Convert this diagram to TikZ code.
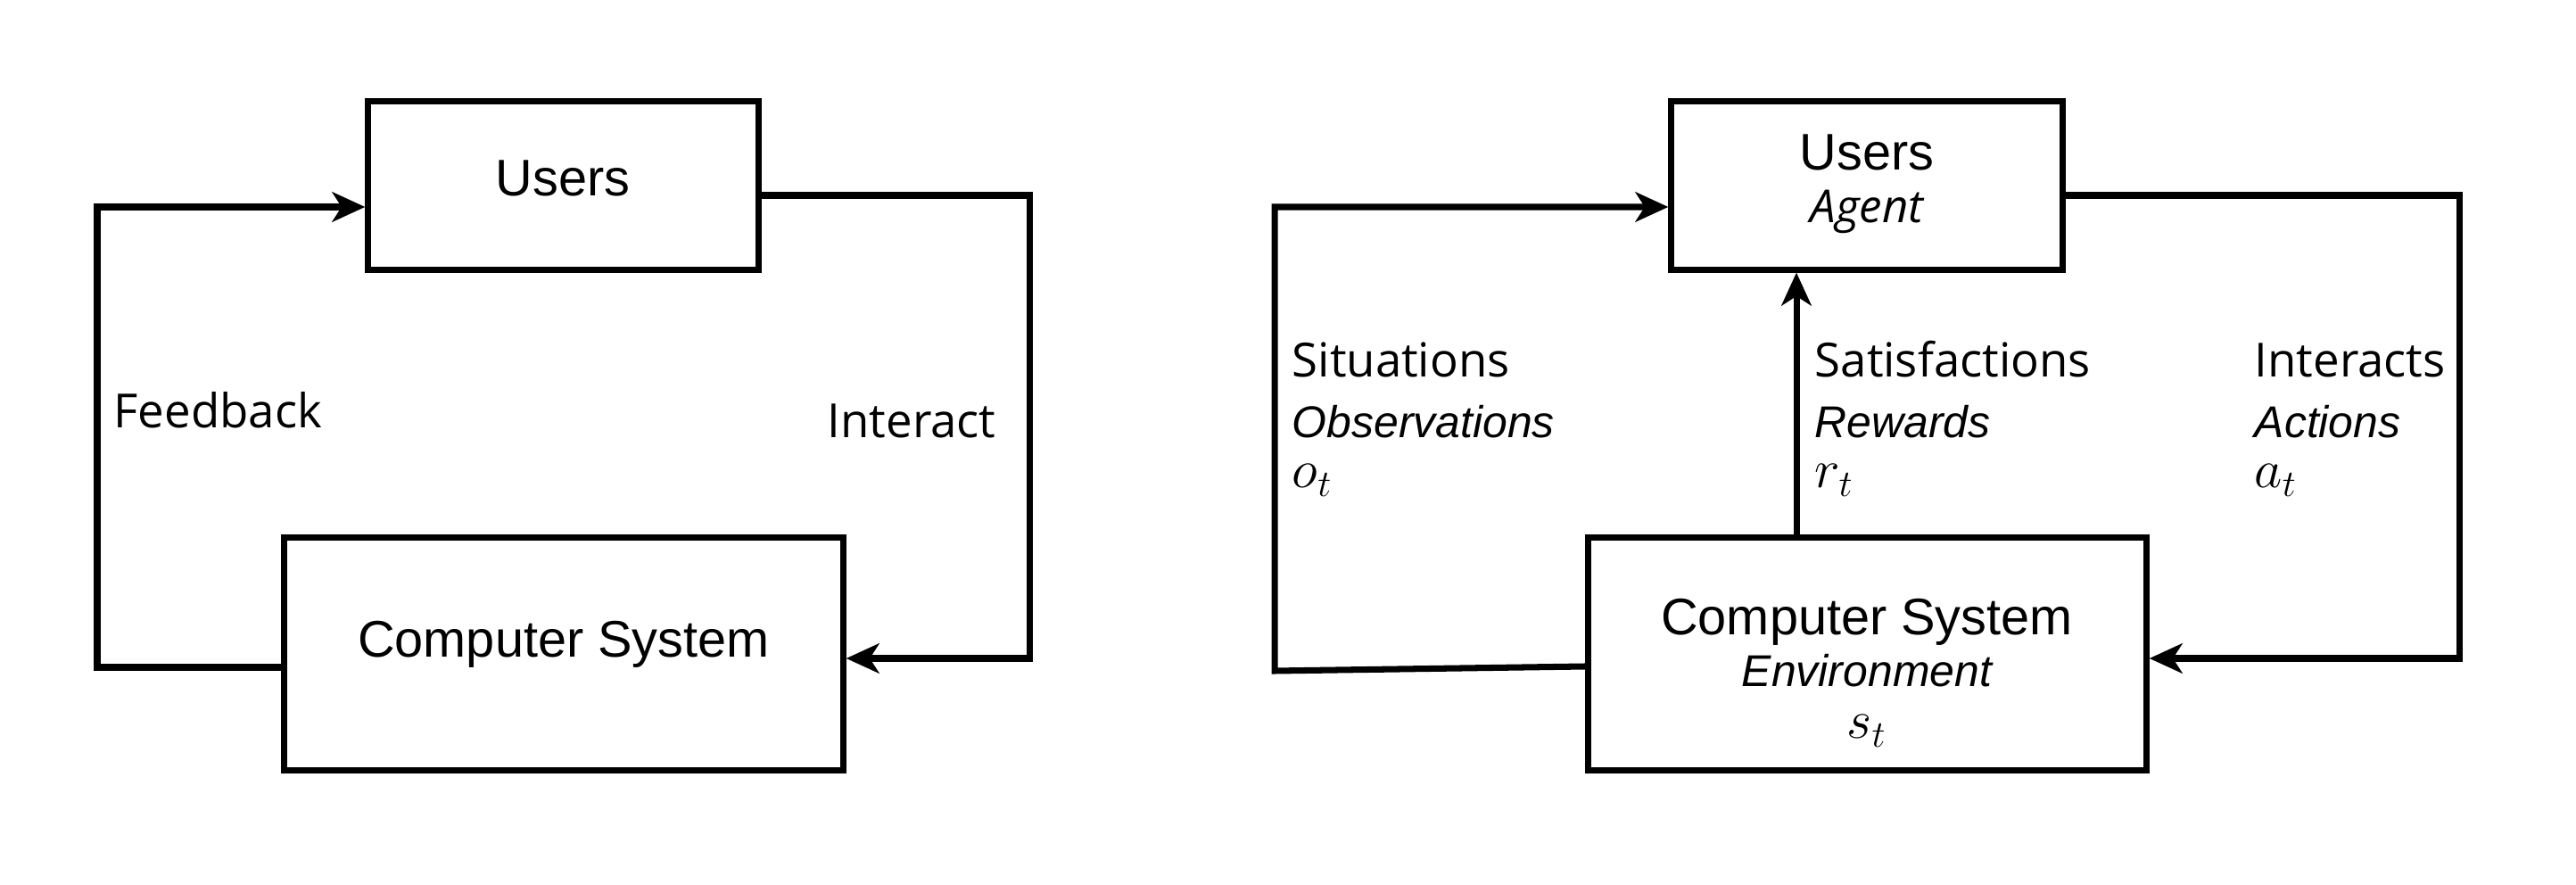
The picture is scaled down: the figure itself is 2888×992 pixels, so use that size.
\documentclass[tikz,border=0pt]{standalone}
\usepackage{fontspec}
\setmainfont{Liberation Sans}
\newfontfamily\osans{Open Sans}
\usetikzlibrary{arrows.meta}
\tikzset{
  box/.style={draw, line width=2pt, inner sep=0pt},
  conn/.style={line width=2pt, line join=miter},
  arr/.style={conn, -{Stealth[length=10.5pt,width=9.5pt,inset=3pt]}},
  lbl/.style={inner sep=0pt, font=\fontsize{16.4}{20}\selectfont},
  itl/.style={inner sep=0pt, font=\fontsize{14.2}{17}\selectfont\itshape},
  osl/.style={inner sep=0pt, font=\osans\fontsize{15}{18}\selectfont},
  osi/.style={inner sep=0pt, font=\osans\fontsize{14.5}{18}\selectfont\itshape},
  mth/.style={inner sep=0pt, font=\fontsize{17}{20}\selectfont},
}
\begin{document}
\begin{tikzpicture}[x=0.01cm,y=-0.01cm]
\useasboundingbox (0,0) rectangle (2888,992);
% ---------------- left diagram ----------------
\node[box, minimum width=4.37cm, minimum height=1.88cm] (users1) at (631.5,208) {};
\node[box, minimum width=6.26cm, minimum height=2.60cm] (cs1) at (632,733) {};
\node[lbl, anchor=base] (tu1) at (631,220) {Users};
\node[lbl, anchor=base] (tc1) at (632,737) {Computer System};
\node[osl, anchor=base west] (fb) at (127,480) {Feedback};
\node[osl, anchor=base west] (ia) at (927,491) {Interact};
\coordinate (fbA) at (109,748);
\coordinate (fbB) at (109,232);
\coordinate (iaA) at (1154,219);
\coordinate (iaB) at (1154,738);
\draw[arr] (cs1.west |- fbA) -- (fbA) -- (fbB) -- (users1.west |- fbB);
\draw[arr] (users1.east |- iaA) -- (iaA) -- (iaB) -- (cs1.east |- iaB);
% ---------------- right diagram ----------------
\node[box, minimum width=4.38cm, minimum height=1.88cm] (users2) at (2093,208) {};
\node[box, minimum width=6.25cm, minimum height=2.60cm] (cs2) at (2093.5,733) {};
\node[lbl, anchor=base] (tu2) at (2093,191) {Users};
\node[osi, anchor=base] (ag) at (2093,250) {Agent};
\node[lbl, anchor=base] (tc2) at (2093,712) {Computer System};
\node[itl, anchor=base] (env) at (2093,770) {Environment};
\node[mth, anchor=base] (st) at (2093,828) {$s_t$};
\node[osl, anchor=base west] (sit) at (1448,423) {Situations};
\node[itl, anchor=base west] (obs) at (1448,491) {Observations};
\node[mth, anchor=base west] (ot) at (1448,547) {$o_t$};
\node[osl, anchor=base west] (sat) at (2034,423) {Satisfactions};
\node[itl, anchor=base west] (rew) at (2034,491) {Rewards};
\node[mth, anchor=base west] (rt) at (2034,547) {$r_t$};
\node[osl, anchor=base west] (int) at (2527,423) {Interacts};
\node[itl, anchor=base west] (act) at (2527,491) {Actions};
\node[mth, anchor=base west] (at) at (2527,547) {$a_t$};
\coordinate (obA) at (1429,752);
\coordinate (obB) at (1429,232);
\coordinate (acA) at (2757,219);
\coordinate (acB) at (2757,738);
\coordinate (rwX) at (2014,0);
\draw[arr] (cs2.west |- 0,747) -- (obA) -- (obB) -- (users2.west |- obB);
\draw[arr] (users2.east |- acA) -- (acA) -- (acB) -- (cs2.east |- acB);
\draw[arr] (cs2.north -| rwX) -- (users2.south -| rwX);
\end{tikzpicture}
\end{document}
